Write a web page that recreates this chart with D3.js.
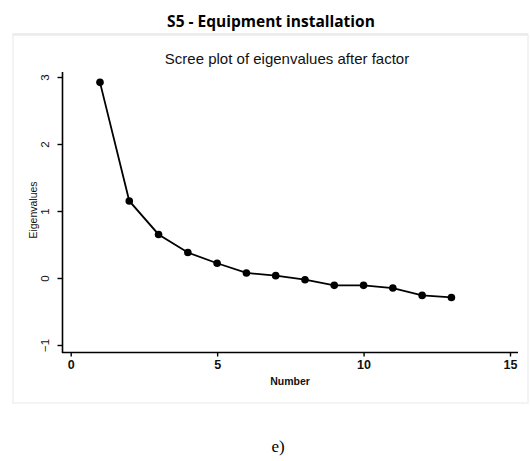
<!DOCTYPE html>
<meta charset="utf-8">
<style>
	body { margin: 0; background: #fff; }
	svg { display: block; }
</style>
<body>
<svg id="chart" width="530" height="461"></svg>
<script src="https://cdn.jsdelivr.net/npm/d3@7"></script>
<script>
	// scree plot values
	var numbers = [1, 2, 3, 4, 5, 6, 7, 8, 9, 10, 11, 12, 13];
	var eigenvalues = [2.92, 1.15, 0.65, 0.38, 0.22, 0.075, 0.035, -0.025, -0.11, -0.11, -0.15, -0.26, -0.29];
	var xTicks = [0, 5, 10, 15];
	var yTicks = [-1, 0, 1, 2, 3];

	var svg = d3.select("#chart");

	// faint frame round the inner picture
	svg.append("rect")
		.attr("x", 13).attr("y", 34)
		.attr("width", 515).attr("height", 369)
		.attr("fill", "none")
		.attr("stroke", "#f0f0f0")
		.attr("stroke-width", 1.5);
	svg.append("line")
		.attr("x1", 13).attr("x2", 528)
		.attr("y1", 34.5).attr("y2", 34.5)
		.attr("stroke", "#ebebeb")
		.attr("stroke-width", 2.5);

	svg.append("text")
		.attr("x", 271).attr("y", 27)
		.attr("text-anchor", "middle")
		.style("font-family", "'Open Sans', sans-serif")
		.style("font-weight", "bold")
		.style("font-size", "15.5px")
		.text("S5 - Equipment installation");

	svg.append("text")
		.attr("x", 287).attr("y", 64)
		.attr("text-anchor", "middle")
		.style("font-family", "'Liberation Sans', Arial, sans-serif")
		.style("font-size", "15px")
		.attr("fill", "#111")
		.text("Scree plot of eigenvalues after factor");

	var x = d3.scaleLinear().domain([0, 15]).range([70.7, 510]);
	var y = d3.scaleLinear().domain([0, 3]).range([278, 77]);

	// axes (Stata style: the line runs past the ticks)
	var xAxis = svg.append("g").attr("transform", "translate(0,352.5)");
	xAxis.append("line")
		.attr("x1", 62).attr("x2", 518)
		.attr("stroke", "#000").attr("stroke-width", 1.6);
	xAxis.call(d3.axisBottom(x).tickValues(xTicks).tickSize(4).tickPadding(4).tickFormat(d3.format("d")))
		.call(function(g) { g.select(".domain").remove(); });
	xAxis.selectAll("text")
		.style("font-family", "'Liberation Sans', Arial, sans-serif")
		.style("font-size", "12.5px")
		.style("font-weight", "bold")
		.attr("fill", "#111");
	xAxis.selectAll(".tick line").attr("stroke-width", 1.4);

	var yAxis = svg.append("g").attr("transform", "translate(62.5,0)");
	yAxis.append("line")
		.attr("y1", 72).attr("y2", 353)
		.attr("stroke", "#000").attr("stroke-width", 1.6);
	yAxis.call(d3.axisLeft(y).tickValues(yTicks).tickSize(5).tickFormat(d3.format("d")))
		.call(function(g) { g.select(".domain").remove(); });
	yAxis.selectAll(".tick text")
		.attr("x", null).attr("dy", null)
		.attr("text-anchor", "middle")
		.attr("transform", "translate(-14,0) rotate(-90)")
		.style("font-family", "'Liberation Sans', Arial, sans-serif")
		.style("font-size", "11.5px")
		.attr("fill", "#111");
	yAxis.selectAll(".tick line").attr("stroke-width", 1.4);

	svg.append("text")
		.attr("transform", "translate(37,210) rotate(-90)")
		.attr("text-anchor", "middle")
		.style("font-family", "'Liberation Sans', Arial, sans-serif")
		.style("font-size", "10.5px")
		.attr("fill", "#111")
		.text("Eigenvalues");

	svg.append("text")
		.attr("x", 290).attr("y", 385)
		.attr("text-anchor", "middle")
		.style("font-family", "'Liberation Sans', Arial, sans-serif")
		.style("font-size", "10.5px")
		.style("font-weight", "bold")
		.attr("fill", "#111")
		.text("Number");

	var pts = numbers.map(function(n, i) { return [n, eigenvalues[i]]; });

	svg.append("path")
		.datum(pts)
		.attr("fill", "none")
		.attr("stroke", "#000")
		.attr("stroke-width", 1.8)
		.attr("d", d3.line().x(function(d) { return x(d[0]); }).y(function(d) { return y(d[1]); }));

	svg.selectAll("circle.pt")
		.data(pts)
		.enter().append("circle")
		.attr("class", "pt")
		.attr("cx", function(d) { return x(d[0]); })
		.attr("cy", function(d) { return y(d[1]); })
		.attr("r", 3.8)
		.attr("fill", "#000");

	svg.append("text")
		.attr("x", 278).attr("y", 452)
		.attr("text-anchor", "middle")
		.style("font-family", "'Liberation Serif', 'Times New Roman', serif")
		.style("font-size", "17px")
		.text("e)");
</script>
</body>
